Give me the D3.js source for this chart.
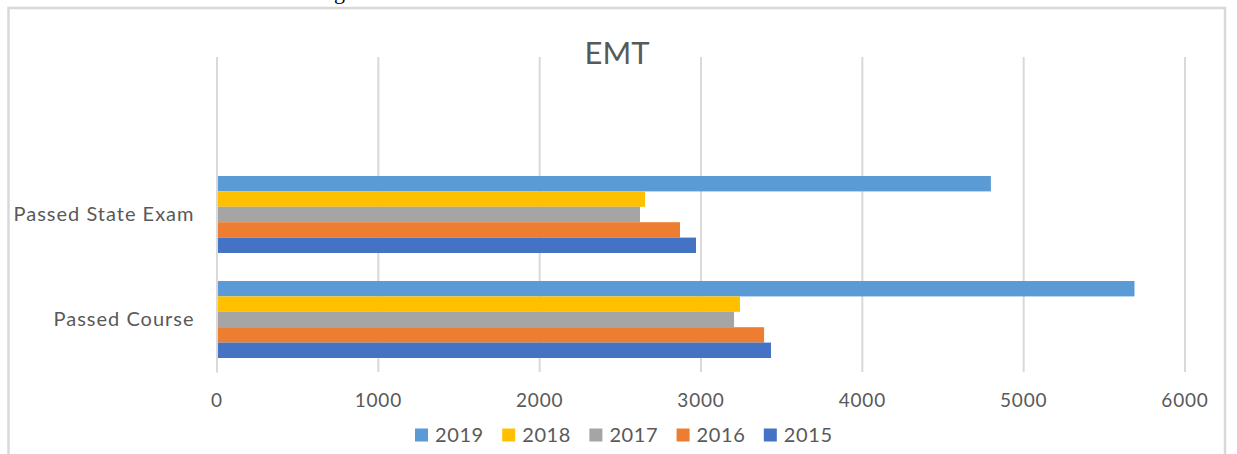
<!DOCTYPE html>
<html>
<head>
<meta charset="utf-8">
<script src="https://cdn.jsdelivr.net/npm/d3@7"></script>
<style>
  body { margin: 0; background: #fff; }
  svg text { font-family: Lato, "Open Sans", sans-serif; fill: #595959; }
</style>
</head>
<body>
<div id="chart"></div>
<script>
// data
const categories = ["Passed Course", "Passed State Exam", ""];   // bottom to top, top slot is empty
const years = ["2019", "2018", "2017", "2016", "2015"];
const v2019 = [5690, 4800, null];
const v2018 = [3245, 2656, null];
const v2017 = [3208, 2625, null];
const v2016 = [3394, 2873, null];
const v2015 = [3437, 2972, null];
const xTicks = [0, 1000, 2000, 3000, 4000, 5000, 6000];
const colors = ["#5b9bd5", "#ffc000", "#a5a5a5", "#ed7d31", "#4472c4"];

const width = 1237, height = 454;
const margin = {left: 216.5, right: 52.5, top: 57, bottom: 82};
const gap = 1.82; // excel gap width

const series = [v2019, v2018, v2017, v2016, v2015];
const rows = [];
years.forEach((y, i) => {
  categories.forEach((c, j) => {
    if (series[i][j] != null) rows.push({year: y, cat: c, value: series[i][j]});
  });
});

const svg = d3.select("#chart").append("svg")
  .attr("width", width)
  .attr("height", height);

// bit of the document text above the chart, only the descender shows
svg.append("text")
  .attr("x", 334).attr("y", -1)
  .style("font-family", "'Liberation Serif', serif")
  .style("fill", "#000")
  .attr("font-size", 22)
  .text("g");

// chart frame
svg.append("rect")
  .attr("x", 8.5).attr("y", 8)
  .attr("width", 1216.5).attr("height", 460)
  .attr("fill", "none")
  .attr("stroke", "#d9d9d9")
  .attr("stroke-width", 2.5);

const x = d3.scaleLinear()
  .domain([0, 6000])
  .range([margin.left, width - margin.right]);

const y0 = d3.scaleBand()
  .domain(categories.slice().reverse())
  .range([margin.top, height - margin.bottom]);

const y1 = d3.scaleBand()
  .domain(years)
  .range([0, y0.bandwidth()])
  .paddingOuter(gap / 2);

// gridlines
svg.append("g")
  .attr("transform", `translate(0,${height - margin.bottom})`)
  .call(d3.axisBottom(x).tickValues(xTicks).tickSize(-(height - margin.top - margin.bottom)).tickFormat(""))
  .call(g => g.select(".domain").remove())
  .call(g => g.selectAll("line").attr("stroke", "#d9d9d9").attr("stroke-width", 2));

// bars
svg.append("g").selectAll("rect")
  .data(rows)
  .enter()
  .append("rect")
    .attr("x", x(0))
    .attr("y", d => y0(d.cat) + y1(d.year))
    .attr("width", d => x(d.value) - x(0))
    .attr("height", y1.bandwidth())
    .attr("fill", d => colors[years.indexOf(d.year)]);

// category axis line + labels
svg.append("g")
  .attr("transform", `translate(${margin.left},0)`)
  .call(d3.axisLeft(y0).tickSize(0).tickPadding(22))
  .call(g => g.select(".domain").attr("stroke", "#d9d9d9").attr("stroke-width", 2))
  .call(g => g.selectAll("text").attr("font-size", 20).attr("letter-spacing", 1).style("fill", "#595959"));

// value tick labels
svg.append("g")
  .attr("transform", `translate(0,${height - margin.bottom})`)
  .call(d3.axisBottom(x).tickValues(xTicks).tickSize(0).tickPadding(22).tickFormat(d3.format("d")))
  .call(g => g.select(".domain").remove())
  .call(g => g.selectAll("text").attr("font-size", 19).attr("letter-spacing", 0.8).style("fill", "#595959"));

// title
svg.append("text")
  .attr("x", 617).attr("y", 64)
  .attr("text-anchor", "middle")
  .attr("font-size", 31)
  .text("EMT");

// legend
const legend = svg.append("g")
  .selectAll("g")
  .data(years)
  .enter()
  .append("g")
    .attr("transform", (d, i) => `translate(${415 + i * 87.2},435)`);

legend.append("rect")
  .attr("x", 0).attr("y", -6.5)
  .attr("width", 13).attr("height", 13)
  .attr("fill", (d, i) => colors[i]);

legend.append("text")
  .attr("x", 20).attr("y", 7)
  .attr("font-size", 20)
  .attr("letter-spacing", 0.6)
  .text(d => d);
</script>
</body>
</html>
